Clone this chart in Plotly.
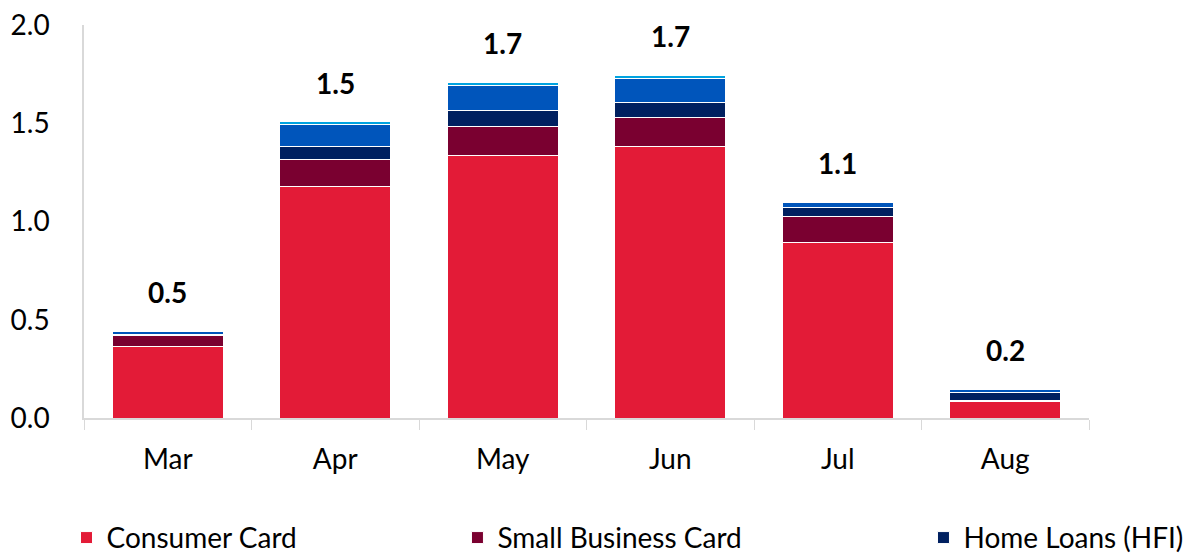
import plotly.graph_objects as go

months = ["Mar", "Apr", "May", "Jun", "Jul", "Aug"]
consumer_card = [0.365, 1.178, 1.338, 1.383, 0.892, 0.084]
small_business_card = [0.054, 0.138, 0.147, 0.148, 0.136, 0.004]
home_loans = [0.007, 0.068, 0.079, 0.076, 0.042, 0.044]
auto = [0.014, 0.108, 0.127, 0.120, 0.028, 0.014]
other = [0.002, 0.015, 0.017, 0.017, 0.003, 0.001]
labels = ["0.5", "1.5", "1.7", "1.7", "1.1", "0.2"]

totals = [sum(v) for v in zip(consumer_card, small_business_card, home_loans, auto, other)]

font_family = "Lato, 'Open Sans', sans-serif"

# name, values, colour, legend id (None = not in legend)
series = [
    ("Consumer Card", consumer_card, "#E31B37", "legend"),
    ("Small Business Card", small_business_card, "#7A0030", "legend2"),
    ("Home Loans (HFI)", home_loans, "#002060", "legend3"),
    ("Auto", auto, "#0055BB", None),
    ("Other", other, "#00A3E0", None),
]

fig = go.Figure()
for name, vals, color, leg in series:
    fig.add_trace(go.Bar(
        x=months, y=vals, name=name,
        marker=dict(color=color, line=dict(color="white", width=1)),
        showlegend=leg is not None,
        legend=leg or "legend",
    ))

for m, t, lab in zip(months, totals, labels):
    fig.add_annotation(x=m, y=t, text="<b>" + lab + "</b>", showarrow=False,
                       yanchor="bottom", yshift=20,
                       font=dict(size=28, color="black", family=font_family))

legend_style = dict(orientation="h", y=-0.305, yanchor="middle", xanchor="left",
                    font=dict(size=28, color="black", family=font_family),
                    bgcolor="rgba(0,0,0,0)")

# the page body has an 8px margin, so the figure is nudged up/left to compensate
fig.update_layout(
    barmode="stack",
    bargap=0.34,
    width=1200,
    height=554,
    plot_bgcolor="white",
    paper_bgcolor="white",
    margin=dict(l=76, r=119, t=17, b=144, autoexpand=False),
    font=dict(family=font_family, size=28, color="black"),
    xaxis=dict(
        showline=True, linecolor="#d9d9d9", linewidth=1.5,
        ticks="outside", tickson="boundaries", ticklen=10, tickcolor="#d9d9d9",
        tickfont=dict(size=28), showgrid=False, automargin=False,
        ticklabelstandoff=16,
    ),
    yaxis=dict(
        range=[0, 2.0], dtick=0.5, tickformat=".1f",
        showline=True, linecolor="#d9d9d9", linewidth=1.5,
        showgrid=False, zeroline=False, ticks="", ticklabelstandoff=27,
        tickfont=dict(size=28), automargin=False, ticklabeloverflow="allow",
    ),
    legend=dict(x=-0.0174, **legend_style),
    legend2=dict(x=0.3716, **legend_style),
    legend3=dict(x=0.8353, **legend_style),
)

fig.write_html("out.html")
